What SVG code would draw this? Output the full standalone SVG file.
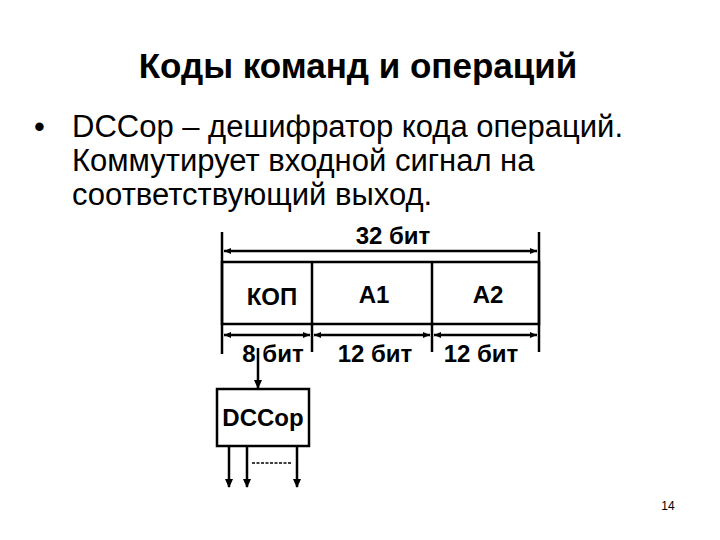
<svg xmlns="http://www.w3.org/2000/svg" width="720" height="540" viewBox="0 0 720 540">
<style>
.t{font-family:"Liberation Sans",Arial,sans-serif;fill:#000}
.title{font-size:35px;font-weight:bold}
.body{font-size:31px}
.lbl{font-size:24px;font-weight:bold}
.ln{stroke:#000;stroke-width:2.5;fill:none}
.ar{stroke:#000;stroke-width:2.5;fill:none;marker-end:url(#ah);marker-start:url(#as)}
</style>
<defs>
<marker id="ah" markerWidth="8" markerHeight="8" refX="7" refY="4" orient="auto" markerUnits="userSpaceOnUse">
<path d="M0,1 L7,4 L0,7 z" fill="#000"/>
</marker>
<marker id="as" markerWidth="8" markerHeight="8" refX="1" refY="4" orient="auto" markerUnits="userSpaceOnUse">
<path d="M8,1 L1,4 L8,7 z" fill="#000"/>
</marker>
<marker id="down" markerWidth="10" markerHeight="10" refX="8" refY="5" orient="auto" markerUnits="userSpaceOnUse">
<path d="M0,1 L9,5 L0,9 z" fill="#000"/>
</marker>
</defs>
<rect width="720" height="540" fill="#fff"/>
<text class="t title" x="358" y="78" text-anchor="middle">Коды команд и операций</text>
<text class="t body" x="34" y="137">•</text>
<text class="t body" x="72" y="137">DCCop – дешифратор кода операций.</text>
<text class="t body" x="72" y="171">Коммутирует входной сигнал на</text>
<text class="t body" x="72" y="205">соответствующий выход.</text>

<g id="connectors">
<line class="ln" x1="222" y1="232" x2="222" y2="354"/>
<line class="ln" x1="539" y1="232" x2="539" y2="352"/>
<line class="ar" x1="224" y1="251" x2="537" y2="251"/>
<line class="ar" x1="224" y1="335" x2="310" y2="335"/>
<line class="ar" x1="314" y1="335" x2="430" y2="335"/>
<line class="ar" x1="434" y1="335" x2="537" y2="335"/>
<line class="ln" x1="258" y1="348" x2="258" y2="388" marker-end="url(#down)"/>
<line class="ln" x1="229" y1="446" x2="229" y2="487" marker-end="url(#down)"/>
<line class="ln" x1="247" y1="446" x2="247" y2="487" marker-end="url(#down)"/>
<line class="ln" x1="297" y1="446" x2="297" y2="487" marker-end="url(#down)"/>
<line x1="252" y1="463" x2="291" y2="463" stroke="#000" stroke-width="1.5" stroke-dasharray="3,1.5"/>
</g>

<g id="word">
<rect class="ln" x="222" y="262" width="317" height="62"/>
<line class="ln" x1="312" y1="262" x2="312" y2="352"/>
<line class="ln" x1="432" y1="262" x2="432" y2="352"/>
</g>
<g id="kop"><text class="t lbl" x="272" y="305" text-anchor="middle">КОП</text></g>
<g id="a1"><text class="t lbl" x="374" y="303" text-anchor="middle">А1</text></g>
<g id="a2"><text class="t lbl" x="488" y="303" text-anchor="middle">А2</text></g>
<text class="t lbl" x="393" y="244" text-anchor="middle">32 бит</text>
<text class="t lbl" x="273" y="362" text-anchor="middle">8 бит</text>
<text class="t lbl" x="375" y="362" text-anchor="middle">12 бит</text>
<text class="t lbl" x="481" y="362" text-anchor="middle">12 бит</text>

<g id="dccop">
<rect class="ln" x="217" y="389" width="92" height="57"/>
<text class="t lbl" x="263" y="426" text-anchor="middle" font-size="25">DCCop</text>
</g>
<text class="t" x="668" y="510" font-size="12" text-anchor="middle">14</text>
</svg>
